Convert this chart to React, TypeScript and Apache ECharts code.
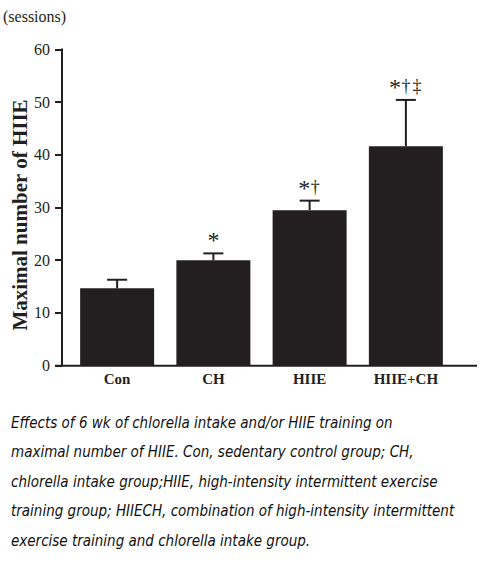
import React, { useEffect, useRef } from "react";
import * as echarts from "echarts";

const categories = ["Con", "CH", "HIIE", "HIIE+CH"];
const means = [14.7, 20.0, 29.5, 41.6];
const sems = [1.6, 1.3, 1.8, 8.8];
const marks = ["", "*", "*†", "*†‡"];
const yMin = 0;
const yMax = 60;
const yInterval = 10;
const yAxisTitle = "Maximal number of HIIE";
const unitLabel = "(sessions)";
const captionLines = [
  "Effects of 6 wk of chlorella intake and/or HIIE training on",
  "maximal number of HIIE. Con, sedentary control group; CH,",
  "chlorella intake group;HIIE, high-intensity intermittent exercise",
  "training group; HIIECH, combination of high-intensity intermittent",
  "exercise training and chlorella intake group.",
];

const ink = "#231f20";
const serif = "'Liberation Serif', 'Times New Roman', serif";
const hand = "'DejaVu Sans Condensed', 'DejaVu Sans', sans-serif";

export default function App() {
  const ref = useRef<HTMLDivElement>(null);
  useEffect(() => {
    document.body.style.margin = "0";
    const chart = echarts.init(ref.current!, null, { renderer: "svg" });
    const baseY = 365.7;
    chart.setOption({
      animation: false,
      grid: { left: 69, width: 385, top: 49.3, bottom: 570 - baseY, containLabel: false },
      xAxis: {
        type: "category",
        data: categories,
        axisLine: { show: false },
        axisTick: { show: false },
        axisLabel: {
          margin: 6,
          fontFamily: serif,
          fontSize: 15,
          fontWeight: "bold",
          color: ink,
        },
      },
      yAxis: {
        type: "value",
        min: yMin,
        max: yMax,
        interval: yInterval,
        offset: 7,
        splitLine: { show: false },
        axisLine: { show: true, lineStyle: { color: ink, width: 2 } },
        axisTick: { show: true, length: 7, inside: false, lineStyle: { color: ink, width: 2 } },
        axisLabel: { margin: 12, fontFamily: serif, fontSize: 16, color: ink },
      },
      graphic: [
        {
          type: "line",
          shape: { x1: 55, y1: baseY, x2: 477, y2: baseY },
          style: { stroke: ink, lineWidth: 2 },
          z: 10,
        },
        {
          type: "text",
          x: 3,
          y: 16.5,
          style: { text: unitLabel, fontFamily: serif, fontSize: 16, fill: ink, align: "left", verticalAlign: "middle" },
        },
        {
          type: "text",
          x: 20,
          y: 215,
          rotation: Math.PI / 2,
          style: {
            text: yAxisTitle,
            fontFamily: serif,
            fontSize: 21,
            fontWeight: "bold",
            fill: ink,
            align: "center",
            verticalAlign: "middle",
          },
        },
        {
          type: "text",
          x: 11,
          y: 408,
          style: {
            text: captionLines.join("\n"),
            fontFamily: hand,
            fontStyle: "italic",
            fontSize: 15,
            lineHeight: 29.5,
            fill: "#111",
            align: "left",
            verticalAlign: "top",
          },
        },
      ],
      series: [
        {
          type: "bar",
          data: means,
          barWidth: 74,
          itemStyle: { color: ink },
          z: 2,
        },
        {
          type: "custom",
          z: 3,
          data: means.map((m, i) => [i, m, sems[i]]),
          renderItem: (params: any, api: any) => {
            const i = api.value(0);
            const m = api.value(1);
            const e = api.value(2);
            const base = api.coord([i, m]);
            const top = api.coord([i, m + e]);
            const x = base[0];
            const children: any[] = [
              { type: "line", shape: { x1: x, y1: base[1], x2: x, y2: top[1] }, style: { stroke: ink, lineWidth: 2 } },
              { type: "line", shape: { x1: x - 10, y1: top[1], x2: x + 10, y2: top[1] }, style: { stroke: ink, lineWidth: 2 } },
            ];
            const chars = Array.from(marks[i] || "");
            chars.forEach((c, k) => {
              const dx = (k - (chars.length - 1) / 2) * 11;
              const star = c === "*";
              children.push({
                type: "text",
                x: x + dx,
                y: top[1] - 15 + (star ? 2 : 1),
                style: {
                  text: c,
                  fontSize: star ? 24 : 18,
                  fontFamily: serif,
                  fill: ink,
                  align: "center",
                  verticalAlign: "middle",
                },
              });
            });
            return { type: "group", children };
          },
        },
      ],
    });
    return () => chart.dispose();
  }, []);
  return <div ref={ref} style={{ width: 481, height: 570 }} />;
}
